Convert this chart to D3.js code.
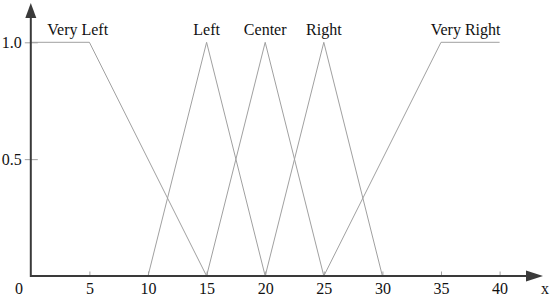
<!DOCTYPE html>
<html><head><meta charset="utf-8">
<script src="https://cdn.jsdelivr.net/npm/d3@7"></script>
<style>html,body{margin:0;padding:0;background:#fff}</style>
</head><body>
<svg id="c" width="552" height="300"></svg>
<script>
const seriesNames = ["Very Left", "Left", "Center", "Right", "Very Right"];
const seriesX = [[0, 5, 15], [10, 15, 20], [15, 20, 25], [20, 25, 30], [25, 35, 40]];
const seriesY = [[1, 1, 0], [0, 1, 0], [0, 1, 0], [0, 1, 0], [0, 1, 1]];
const labelX = [4, 15, 20, 25, 37.1];
const xTicks = [5, 10, 15, 20, 25, 30, 35, 40];
const yTicks = [0.5, 1.0];

const svg = d3.select("#c");
const x = d3.scaleLinear().domain([0, 40]).range([30.8, 499.6]);
const y = d3.scaleLinear().domain([0, 1]).range([276, 42.3]);
const font = "'Liberation Serif', 'Times New Roman', serif";
const axisCol = "#3a3a3a";
const lineCol = "#a0a0a0";

// membership functions
const line = d3.line().x(d => x(d[0])).y(d => y(d[1]));
seriesNames.forEach((n, i) => {
  const pts = seriesX[i].map((v, j) => [v, seriesY[i][j]]);
  svg.append("path").attr("d", line(pts)).attr("fill", "none")
    .attr("stroke", lineCol).attr("stroke-width", 1);
  svg.append("text").attr("x", x(labelX[i])).attr("y", 35)
    .attr("text-anchor", "middle").attr("font-family", font).attr("font-size", 16)
    .attr("fill", "#111").text(n);
});

// x ticks
const xAxis = d3.axisBottom(x).tickValues(xTicks).tickSize(0).tickFormat(d3.format("d"));
const gx = svg.append("g").attr("transform", "translate(0,276)").call(xAxis);
gx.select(".domain").remove();
gx.selectAll("text").attr("font-family", font).attr("font-size", 16).attr("fill", "#111")
  .attr("y", 0).attr("dy", "1.15em");
gx.selectAll(".tick").append("line").attr("x1", 0).attr("x2", 0).attr("y1", -4.5).attr("y2", 0)
  .attr("stroke", lineCol).attr("stroke-width", 1);

// y ticks
const yAxis = d3.axisLeft(y).tickValues(yTicks).tickSize(0).tickFormat(d3.format(".1f"));
const gy = svg.append("g").attr("transform", "translate(30.8,0)").call(yAxis);
gy.select(".domain").remove();
gy.selectAll("text").attr("font-family", font).attr("font-size", 16).attr("fill", "#111")
  .attr("x", -9).attr("dy", "0.35em");
gy.selectAll(".tick").append("line").attr("x1", -6).attr("x2", 7)
  .attr("stroke", lineCol).attr("stroke-width", 1);

// axes with arrows
svg.append("line").attr("x1", x(0)).attr("x2", 528).attr("y1", y(0)).attr("y2", y(0))
  .attr("stroke", axisCol).attr("stroke-width", 2);
svg.append("line").attr("x1", x(0)).attr("x2", x(0)).attr("y1", y(0) + 1).attr("y2", 16)
  .attr("stroke", axisCol).attr("stroke-width", 2);
svg.append("path").attr("d", `M${526},${y(0) - 5.5}L${543},${y(0)}L${526},${y(0) + 5.5}Z`).attr("fill", axisCol);
svg.append("path").attr("d", `M${x(0) - 5.5},18L${x(0)},3L${x(0) + 5.5},18Z`).attr("fill", axisCol);

svg.append("text").attr("x", 19).attr("y", 294).attr("text-anchor", "middle")
  .attr("font-family", font).attr("font-size", 16).attr("fill", "#111").text("0");
svg.append("text").attr("x", 545).attr("y", 294).attr("text-anchor", "middle")
  .attr("font-family", font).attr("font-size", 16).attr("fill", "#111").text("x");
</script>
</body></html>
